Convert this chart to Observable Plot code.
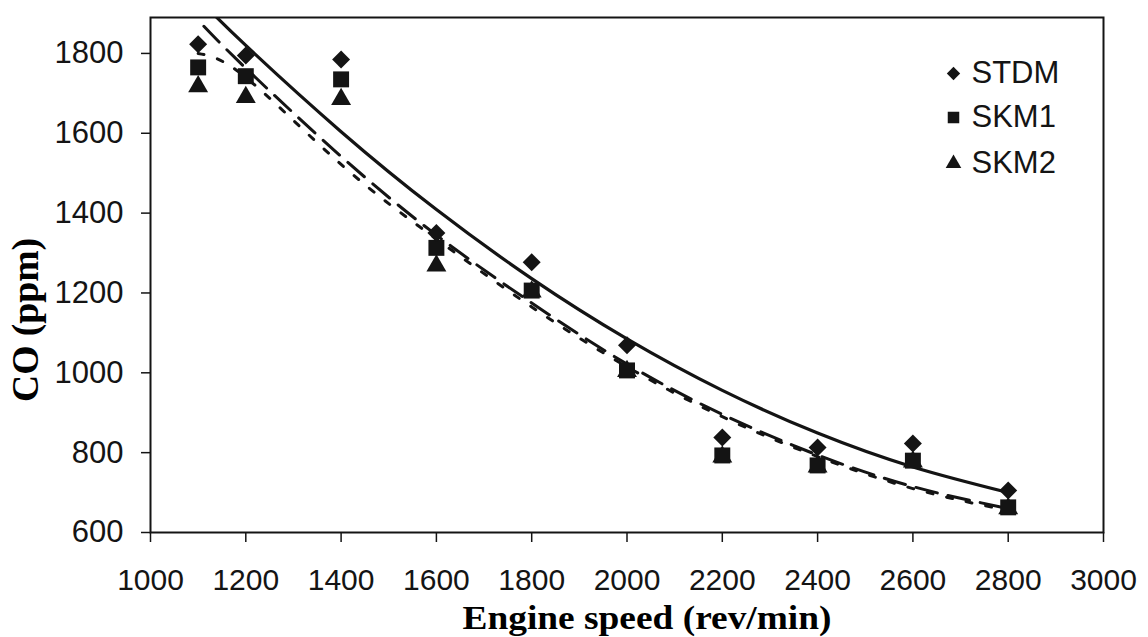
<!DOCTYPE html>
<html>
<head>
<meta charset="utf-8">
<script src="https://cdn.jsdelivr.net/npm/d3@7"></script>
<script src="https://cdn.jsdelivr.net/npm/@observablehq/plot@0.6"></script>
<style>
  html, body { margin: 0; padding: 0; background: #fff; }
  #chart { width: 1148px; height: 637px; }
</style>
</head>
<body>
<div id="chart"></div>
<script>
// ---- measured data points (CO ppm vs engine speed) ----
const speeds = [1100, 1200, 1400, 1600, 1800, 2000, 2200, 2400, 2600, 2800];
const stdm = [1823, 1795, 1785, 1350, 1277, 1069, 838, 813, 823, 705];
const skm1 = [1765, 1743, 1735, 1313, 1206, 1006, 793, 768, 780, 663];
const skm2 = [1717, 1690, 1685, 1268, 1203, 1004, 790, 765, 777, 660];

// ---- trend curves ----
const trendX = [1100, 1200, 1400, 1600, 1800, 2000, 2200, 2400, 2600, 2800];
const trendStdm = [1937, 1820, 1604, 1409, 1236, 1085, 956, 849, 764, 700];
const trendSkm1X = [1112, 1200, 1400, 1600, 1800, 2000, 2200, 2400, 2600, 2800];
const trendSkm1 = [1868, 1763, 1542, 1345, 1175, 1022, 896, 794, 715, 660];
const trendSkm2 = [1800, 1740, 1522, 1335, 1165, 1015, 890, 790, 710, 655];

// ---- axes / legend labels ----
const xTicks = [1000, 1200, 1400, 1600, 1800, 2000, 2200, 2400, 2600, 2800, 3000];
const yTicks = [600, 800, 1000, 1200, 1400, 1600, 1800];
const seriesNames = ["STDM", "SKM1", "SKM2"];
const xLabel = "Engine speed (rev/min)";
const yLabel = "CO (ppm)";

const pts = (xs, ys) => xs.map((x, i) => ({x, y: ys[i]}));
const ink = "#141414";

const W = 1148, H = 637;
const plot = Plot.plot({
  width: W,
  height: H,
  marginLeft: 150,
  marginRight: 45,
  marginTop: 17,
  marginBottom: 105,
  style: {
    fontFamily: "'Liberation Sans', Arial, sans-serif",
    fontSize: "30px",
    color: ink,
    background: "#fff",
    overflow: "visible"
  },
  x: {domain: [1000, 3000], label: null},
  y: {domain: [600, 1890], label: null},
  marks: [
    Plot.axisX({ticks: xTicks, tickSize: 10, tickPadding: 26, tickFormat: d => String(d), label: null, stroke: ink, strokeWidth: 1.5, fontSize: 30}),
    Plot.axisY({ticks: yTicks, tickSize: 9, tickPadding: 18, tickFormat: d => String(d), label: null, stroke: ink, strokeWidth: 1.5, fontSize: 31}),
    // trend lines
    Plot.line(pts(trendX, trendStdm), {x: "x", y: "y", curve: "natural", stroke: ink, strokeWidth: 3.2, clip: true}),
    Plot.line(pts(trendSkm1X, trendSkm1), {x: "x", y: "y", curve: "natural", stroke: ink, strokeWidth: 3, strokeDasharray: "22,11", clip: true}),
    Plot.line(pts(trendX, trendSkm2), {x: "x", y: "y", curve: "natural", stroke: ink, strokeWidth: 3, strokeDasharray: "6,14", clip: true}),
    // data points
    Plot.dot(pts(speeds, skm2), {x: "x", y: "y", symbol: "triangle", r: 7.4, fill: ink, stroke: "none"}),
    Plot.dot(pts(speeds, skm1), {x: "x", y: "y", symbol: "square", r: 9, fill: ink, stroke: "none"}),
    Plot.dot(pts(speeds, stdm), {x: "x", y: "y", symbol: "diamond2", r: 8.1, fill: ink, stroke: "none"}),
    // legend
    Plot.dot([seriesNames[0]], {frameAnchor: "top-right", dx: -150, dy: 56, symbol: "diamond2", r: 6, fill: ink, stroke: "none"}),
    Plot.dot([seriesNames[1]], {frameAnchor: "top-right", dx: -150, dy: 100, symbol: "square", r: 6.5, fill: ink, stroke: "none"}),
    Plot.dot([seriesNames[2]], {frameAnchor: "top-right", dx: -150, dy: 146, symbol: "triangle", r: 5.8, fill: ink, stroke: "none"}),
    Plot.text([seriesNames[0]], {frameAnchor: "top-right", dx: -132, dy: 56, text: d => d, textAnchor: "start", lineAnchor: "middle", fontSize: 31, fill: ink}),
    Plot.text([seriesNames[1]], {frameAnchor: "top-right", dx: -132, dy: 100, text: d => d, textAnchor: "start", lineAnchor: "middle", fontSize: 31, fill: ink}),
    Plot.text([seriesNames[2]], {frameAnchor: "top-right", dx: -132, dy: 146, text: d => d, textAnchor: "start", lineAnchor: "middle", fontSize: 31, fill: ink}),
    Plot.frame({stroke: ink, strokeWidth: 2})
  ]
});

const svg = d3.select(plot);
svg.append("text")
  .attr("x", 647).attr("y", 629)
  .attr("text-anchor", "middle")
  .attr("font-family", "'Liberation Serif', 'Times New Roman', serif")
  .attr("font-weight", "bold")
  .attr("font-size", 34)
  .attr("textLength", 369)
  .attr("lengthAdjust", "spacingAndGlyphs")
  .attr("fill", "#000")
  .text(xLabel);
svg.append("text")
  .attr("transform", "translate(38,320) rotate(-90)")
  .attr("text-anchor", "middle")
  .attr("font-family", "'Liberation Serif', 'Times New Roman', serif")
  .attr("font-weight", "bold")
  .attr("font-size", 37)
  .attr("textLength", 164)
  .attr("lengthAdjust", "spacingAndGlyphs")
  .attr("fill", "#000")
  .text(yLabel);

document.getElementById("chart").appendChild(plot);
</script>
</body>
</html>
